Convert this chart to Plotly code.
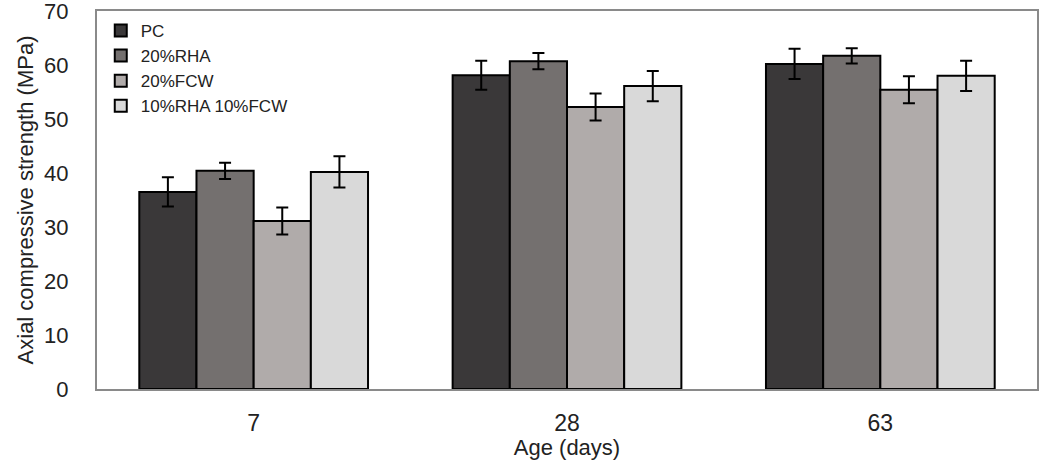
import plotly.graph_objects as go

ages = ["7", "28", "63"]
series_names = ["PC", "20%RHA", "20%FCW", "10%RHA 10%FCW"]
pc = [36.5, 58.1, 60.2]
rha = [40.4, 60.7, 61.7]
fcw = [31.1, 52.2, 55.4]
mix = [40.2, 56.1, 58.0]
pc_err = [2.7, 2.7, 2.8]
rha_err = [1.5, 1.5, 1.4]
fcw_err = [2.5, 2.5, 2.5]
mix_err = [2.9, 2.8, 2.8]
colors = ["#3a3839", "#74706f", "#b0abaa", "#d9d9d9"]

FONT = "Liberation Sans Narrow, Arial Narrow, Liberation Sans, Arial, sans-serif"

fig = go.Figure()
for name, vals, errs, col in zip(series_names, [pc, rha, fcw, mix],
                                 [pc_err, rha_err, fcw_err, mix_err], colors):
    fig.add_trace(go.Bar(
        x=ages, y=vals, name=name,
        marker=dict(color=col, line=dict(color="#000000", width=2)),
        error_y=dict(type="data", array=errs, visible=True,
                     color="#000000", thickness=2, width=6),
    ))

fig.update_layout(
    width=1053, height=460,
    margin=dict(l=97, r=16, t=11, b=71),
    paper_bgcolor="white", plot_bgcolor="white",
    barmode="group", bargap=0.27, bargroupgap=0,
    font=dict(family=FONT, color="#222222"),
    showlegend=True,
    legend=dict(x=0.004, y=0.995, xanchor="left", yanchor="top",
                font=dict(size=17, family=FONT, color="#222222"),
                bgcolor="rgba(0,0,0,0)", itemwidth=30, tracegroupgap=0),
    xaxis=dict(showline=True, linecolor="#8a8a8a", linewidth=2, mirror=True,
               showgrid=False, ticks="", ticklabelstandoff=12,
               automargin=False,
               tickfont=dict(size=23, family=FONT),
               title=dict(text="Age (days)", font=dict(size=22, family=FONT),
                          standoff=4)),
    yaxis=dict(range=[0, 70], dtick=10, showline=True, linecolor="#8a8a8a",
               linewidth=2, mirror=True, showgrid=False, ticks="",
               automargin=False, ticklabeloverflow="allow",
               ticklabelstandoff=22, tickfont=dict(size=22, family=FONT),
               title=dict(text="Axial compressive strength (MPa)",
                          font=dict(size=22, family=FONT), standoff=4),
               zeroline=False),
)

fig.write_html("out.html")
